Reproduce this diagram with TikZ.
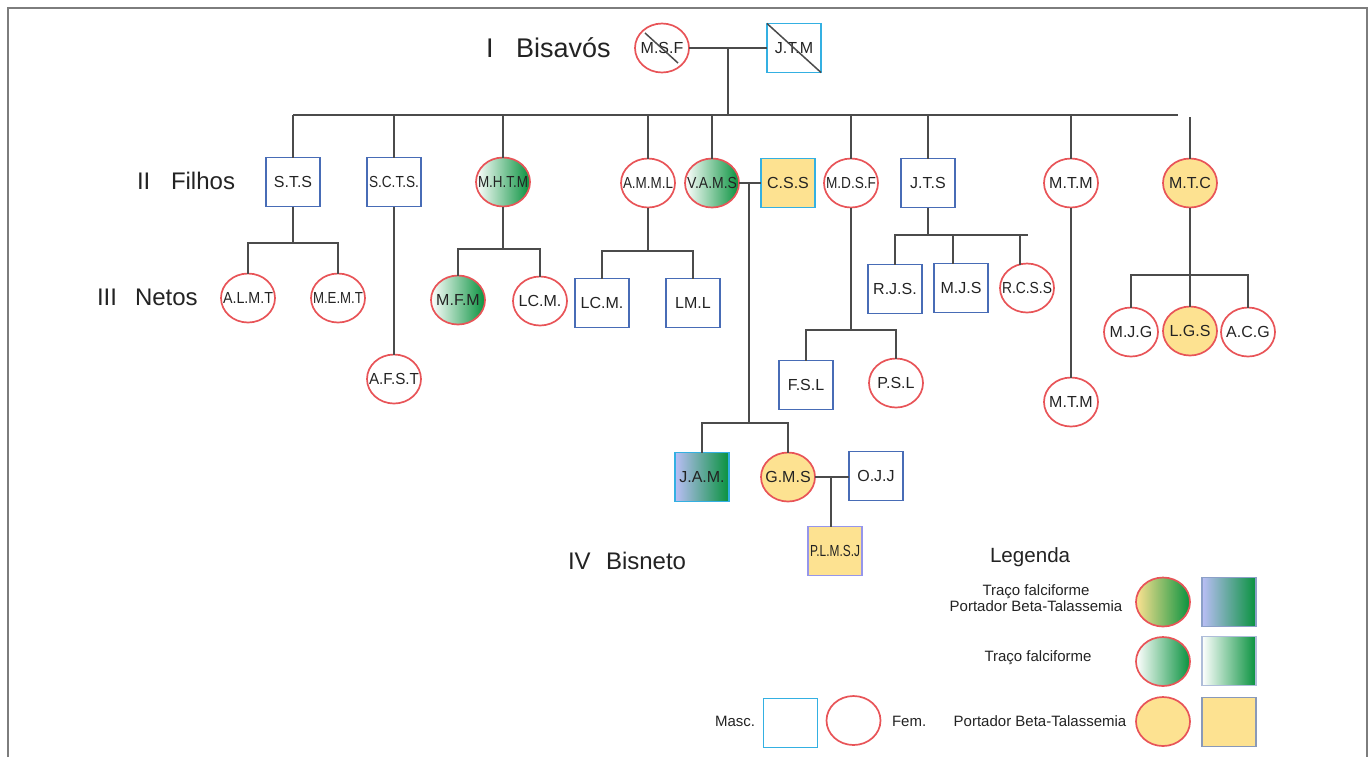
\documentclass[tikz,border=0pt]{standalone}
\usepackage{fontspec}
\setmainfont{Liberation Sans}
\usetikzlibrary{shapes.geometric,calc}
\definecolor{femred}{RGB}{232,84,88}
\definecolor{mblue}{RGB}{72,108,182}
\definecolor{lblue}{RGB}{52,176,226}
\definecolor{ylw}{RGB}{253,226,145}
\definecolor{grn}{RGB}{8,146,62}
\definecolor{lav}{RGB}{186,190,246}
\definecolor{lgb}{RGB}{140,160,200}
\definecolor{lnk}{RGB}{75,75,75}
\definecolor{framec}{RGB}{125,125,125}
\definecolor{txt}{RGB}{35,35,35}
\newsavebox\lblbox
\newcommand\fitlbl[1]{\sbox\lblbox{#1}\makebox[0pt]{\ifdim\wd\lblbox>25pt\resizebox{25pt}{\height}{\usebox\lblbox}\else\usebox\lblbox\fi}}
\newcommand\person[4]{\node[#1] (#2) at (#3) {\fitlbl{#4}};}
\tikzset{
  every node/.style={inner sep=0pt, outer sep=0pt},
  base/.style={line width=0.85pt, minimum width=27pt, minimum height=24.5pt, font=\fontsize{8}{9}\selectfont, text=txt},
  fem/.style={base, ellipse, draw=femred},
  masc/.style={base, rectangle, draw=mblue},
  mascl/.style={base, rectangle, draw=lblue},
  trait/.style={left color=white, right color=grn},
  carrier/.style={fill=ylw},
  bothf/.style={left color=ylw, right color=grn},
  bothm/.style={left color=lav, right color=grn},
  link/.style={draw=lnk, line width=0.75pt},
  gen/.style={anchor=base west, font=\fontsize{12}{14}\selectfont, text=txt},
  leg/.style={anchor=base, font=\fontsize{7.5}{9}\selectfont, text=txt},
}
\begin{document}
\begin{tikzpicture}[x=0.5pt,y=-0.5pt]
\useasboundingbox (0,0) rectangle (1369,757);
\draw[framec, line width=1pt] (8,757) -- (8,8) -- (1367,8) -- (1367,757);

% generation labels
\node[gen, font=\fontsize{13.5}{15}\selectfont] (gI) at (486,57) {I};
\node[gen, font=\fontsize{13.5}{15}\selectfont] (gIt) at (516,57) {Bisavós};
\node[gen] (gII) at (137,189) {II};
\node[gen] (gIIt) at (171,189) {Filhos};
\node[gen] (gIII) at (97,305) {III};
\node[gen] (gIIIt) at (135,305) {Netos};
\node[gen] (gIV) at (568,569) {IV};
\node[gen] (gIVt) at (606,569) {Bisneto};

% generation I
\person{fem}{msf}{662,48}{M.S.F}
\person{mascl}{jtm}{794,48}{J.T.M}
\draw[link] ($(msf.center)+(-17,-15)$) -- ($(msf.center)+(16,15)$);
\draw[link] (jtm.north west) -- (jtm.south east);
\draw[link] (msf.east) -- (jtm.west);
\coordinate (c1) at (728,48);
\coordinate (barL) at (293,115);
\coordinate (barR) at (1178,115);
\draw[link] (c1) -- (c1 |- barL);
\draw[link] (barL) -- (barR);

% generation II
\person{masc}{sts}{293,182}{S.T.S}
\person{masc}{scts}{394,182}{S.C.T.S.}
\person{fem,trait}{mhtm}{503,182}{M.H.T.M}
\person{fem}{amml}{648,183}{A.M.M.L}
\person{fem,trait}{vams}{712,183}{V.A.M.S}
\person{mascl,carrier}{css}{788,183}{C.S.S}
\person{fem}{mdsf}{851,183}{M.D.S.F}
\person{masc}{jts}{928,183}{J.T.S}
\person{fem}{mtm}{1071,183}{M.T.M}
\person{fem,carrier}{mtc}{1190,183}{M.T.C}
\foreach \n in {sts,scts,mhtm,amml,vams,mdsf,jts,mtm}
  \draw[link] (\n.north) -- (\n.north |- barL);
\coordinate (mtctop) at (1190,117);
\draw[link] (mtctop) -- (mtc.north);
\draw[link] (vams.east) -- (css.west);
\coordinate (c2) at (749,183);

% generation III
\person{fem}{almt}{248,298}{A.L.M.T}
\person{fem}{memt}{338,298}{M.E.M.T}
\coordinate (sb) at (293,243);
\draw[link] (sts.south) -- (sb);
\draw[link] (almt.north) |- (sb) -| (memt.north);

\person{fem}{afst}{394,379}{A.F.S.T}
\draw[link] (scts.south) -- (afst.north);

\person{fem,trait}{mfm}{458,300}{M.F.M}
\person{fem}{lcmf}{540,301}{LC.M.}
\coordinate (hb) at (503,249);
\draw[link] (mhtm.south) -- (hb);
\draw[link] (mfm.north) |- (hb) -| (lcmf.north);

\person{masc}{lcmm}{602,303}{LC.M.}
\person{masc}{lml}{693,303}{LM.L}
\coordinate (ab) at (648,251);
\draw[link] (amml.south) -- (ab);
\draw[link] (lcmm.north) |- (ab) -| (lml.north);

\person{masc}{fsl}{806,385}{F.S.L}
\person{fem}{psl}{896,383}{P.S.L}
\coordinate (db) at (851,330);
\draw[link] (mdsf.south) -- (db);
\draw[link] (fsl.north) |- (db) -| (psl.north);

\person{masc}{rjs}{895,289}{R.J.S.}
\person{masc}{mjs}{961,288}{M.J.S}
\person{fem}{rcss}{1027,288}{R.C.S.S}
\coordinate (jb) at (928,235);
\coordinate (jbR) at (1028,235);
\draw[link] (jts.south) -- (jb);
\draw[link] (rjs.north) |- (jbR);
\draw[link] ([xshift=-4pt]mjs.north) -- ([xshift=-4pt]mjs.north |- jb);
\draw[link] ([xshift=-3.5pt,yshift=-0.5pt]rcss.north) -- ([xshift=-3.5pt]rcss.north |- jb);

\person{fem}{mtmb}{1071,402}{M.T.M}
\draw[link] (mtm.south) -- (mtmb.north);

\person{fem}{mjg}{1131,332}{M.J.G}
\person{fem,carrier}{lgs}{1190,331}{L.G.S}
\person{fem}{acg}{1248,332}{A.C.G}
\coordinate (tb) at (1190,275);
\draw[link] (mtc.south) -- (lgs.north);
\draw[link] (mjg.north) |- (tb) -| (acg.north);

% generation IV
\person{mascl,bothm}{jam}{702,477}{J.A.M.}
\person{fem,carrier}{gms}{788,477}{G.M.S}
\coordinate (vb) at (749,423);
\draw[link] (c2) -- (vb);
\draw[link] (jam.north) |- (vb) -| (gms.north);
\person{masc}{ojj}{876,476}{O.J.J}
\draw[link] (gms.east) -- (gms.east -| ojj.west);
\coordinate (c3) at (831,477);
\person{base,rectangle,draw={rgb,255:red,150;green,150;blue,235},carrier}{plmsj}{835,551}{P.L.M.S.J}
\draw[link] (c3) -- (c3 |- plmsj.north);

% legend
\node[anchor=base west, font=\fontsize{10.3}{12}\selectfont, text=txt] (legt) at (990,562) {Legenda};
\node[leg] (l1a) at (1036,595) {Traço falciforme};
\node[leg] (l1b) at (1036,611.5) {Portador Beta-Talassemia};
\node[leg] (l2) at (1038,661.5) {Traço falciforme};
\node[leg] (l3) at (1040,726.5) {Portador Beta-Talassemia};
\node[fem,bothf] (lg1f) at (1163,602) {};
\node[base,rectangle,draw=lgb,bothm] (lg1m) at (1229,602) {};
\node[fem,trait] (lg2f) at (1163,661.5) {};
\node[base,rectangle,draw=lgb!70,trait] (lg2m) at (1229,661) {};
\node[fem,carrier] (lg3f) at (1163,721.5) {};
\node[base,rectangle,draw=lgb!80!gray,carrier] (lg3m) at (1229,722) {};

\node[base,rectangle,draw=lblue] (mascl) at (790.5,723) {};
\node[fem] (feml) at (853.5,720.5) {};
\node[anchor=base west, font=\fontsize{7.5}{9}\selectfont, text=txt] (masct) at (715,726.5) {Masc.};
\node[anchor=base west, font=\fontsize{7.5}{9}\selectfont, text=txt] (femt) at (892,726.5) {Fem.};
\end{tikzpicture}
\end{document}
